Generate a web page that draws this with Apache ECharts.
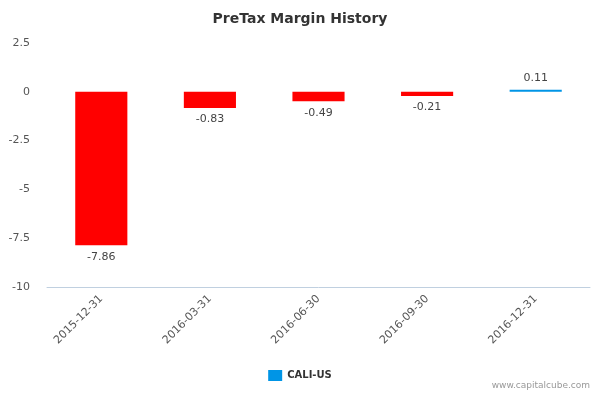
<!DOCTYPE html>
<html>
<head>
<meta charset="utf-8">
<script src="https://cdn.jsdelivr.net/npm/echarts@6/dist/echarts.min.js"></script>
<style>html,body{margin:0;padding:0;background:#fff}#main{width:600px;height:400px}</style>
</head>
<body>
<div id="main"></div>
<script>
var categories = ['2015-12-31', '2016-03-31', '2016-06-30', '2016-09-30', '2016-12-31'];
var values = [-7.86, -0.83, -0.49, -0.21, 0.11];
var seriesName = 'CALI-US';

var chart = echarts.init(document.getElementById('main'));
var option = {
    textStyle: { fontFamily: 'DejaVu Sans' },
    title: {
        text: 'PreTax Margin History',
        left: 'center',
        top: 7,
        textStyle: { fontSize: 14, fontWeight: 'bold', color: '#333' }
    },
    graphic: [{
        type: 'text', right: 10, bottom: 10,
        style: { text: 'www.capitalcube.com', fill: '#999', fontSize: 9, fontFamily: 'DejaVu Sans' }
    }],
    legend: {
        bottom: 14,
        left: 'center',
        itemWidth: 14, itemHeight: 11,
        textStyle: { fontSize: 10, fontWeight: 'bold', color: '#333' },
        data: [{ name: seriesName, icon: 'rect', itemStyle: { color: '#0095e6' } }]
    },
    grid: { left: 47, right: 10, top: 43, bottom: 113 },
    xAxis: {
        type: 'category',
        data: categories,
        position: 'bottom',
        axisLine: { onZero: false, lineStyle: { color: '#c0d0e0' } },
        axisTick: { lineStyle: { color: '#c0d0e0' }, length: 8 },
        axisLabel: { rotate: 45, color: '#555', fontSize: 11, margin: 10 }
    },
    yAxis: {
        type: 'value',
        min: -10, max: 2.5, interval: 2.5,
        splitLine: { show: false },
        axisLine: { show: false },
        axisTick: { show: false },
        axisLabel: { color: '#555', fontSize: 11, margin: 17 }
    },
    series: [{
        name: seriesName,
        type: 'bar',
        barWidth: '48%',
        data: values.map(function (v) {
            return {
                value: v,
                itemStyle: { color: v < 0 ? '#ff0000' : '#0095e6' },
                label: { position: v < 0 ? 'bottom' : 'top' }
            };
        }),
        label: { show: true, color: '#444', fontSize: 11, distance: 6 }
    }]
};
chart.setOption(option);
</script>
</body>
</html>
